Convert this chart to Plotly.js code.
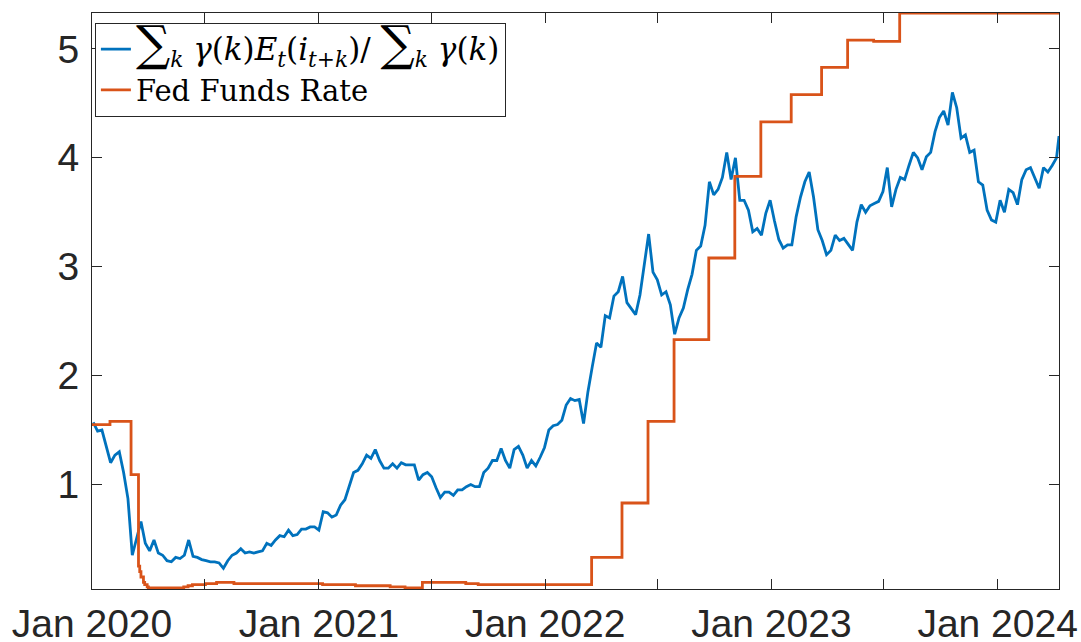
<!DOCTYPE html>
<html>
<head>
<meta charset="utf-8">
<script src="https://cdn.plot.ly/plotly-3.0.1.min.js"></script>
<style>
  html, body { margin: 0; padding: 0; background: #ffffff; }
  #chart { width: 1081px; height: 642px; }
</style>
</head>
<body>
<div id="chart"></div>
<script>
// Weekly (Friday) readings of the weighted average of expected future policy rates, by year
const exp2020 = [1.57,1.49,1.50,1.36,1.20,1.27,1.30,1.11,0.87,0.35,0.50,0.66,0.46,0.39,0.49,0.37,
  0.35,0.30,0.29,0.33,0.32,0.35,0.49,0.34,0.33,0.31,0.30,0.29,0.29,0.28,0.23,0.30,0.35,0.37,0.41,
  0.37,0.38,0.37,0.38,0.39,0.46,0.44,0.49,0.53,0.52,0.58,0.53,0.54,0.59,0.59,0.61,0.61];
const exp2021 = [0.58,0.75,0.74,0.70,0.72,0.81,0.86,0.98,1.11,1.13,1.19,1.27,1.24,1.32,1.22,1.15,
  1.15,1.19,1.15,1.20,1.18,1.18,1.18,1.04,1.09,1.11,1.07,0.97,0.88,0.93,0.93,0.90,0.95,0.95,0.98,
  1.00,0.98,0.98,1.11,1.15,1.22,1.22,1.33,1.22,1.15,1.32,1.35,1.27,1.15,1.22,1.17,1.25,1.34];
const exp2022 = [1.50,1.54,1.55,1.59,1.73,1.79,1.77,1.78,1.56,1.85,2.08,2.30,2.26,2.55,2.53,2.73,
  2.77,2.91,2.67,2.62,2.56,2.74,3.02,3.30,2.95,2.88,2.74,2.77,2.65,2.38,2.53,2.62,2.79,2.93,3.15,
  3.19,3.38,3.78,3.66,3.71,3.82,4.05,3.80,4.00,3.61,3.61,3.52,3.32,3.35,3.29,3.49,3.61];
const exp2023 = [3.42,3.25,3.17,3.20,3.20,3.46,3.64,3.78,3.87,3.64,3.34,3.24,3.11,3.15,3.29,3.24,
  3.26,3.20,3.15,3.41,3.57,3.50,3.56,3.58,3.60,3.69,3.91,3.55,3.71,3.82,3.80,3.93,4.05,4.00,3.89,
  4.01,4.05,4.24,4.37,4.43,4.30,4.60,4.46,4.18,4.21,4.05,4.07,3.78,3.75,3.52,3.43,3.41];
const exp2024 = [3.61,3.50,3.71,3.68,3.57,3.80,3.89,3.91,3.82,3.72,3.91,3.87,3.93,4.00];
const expFirstFriday = '2020-01-03';
const expLastDate = '2024-04-09';
const expLastValue = 4.20;

// Effective federal funds rate: dates on which the rate changed and the new level
const ffDates = ['2020-01-01','2020-01-30','2020-03-04','2020-03-16','2020-03-18','2020-03-20',
  '2020-03-24','2020-03-26','2020-03-30','2020-04-01','2020-05-28','2020-06-04','2020-06-11',
  '2020-07-02','2020-07-20','2020-08-17','2021-01-07','2021-03-01','2021-04-26','2021-05-20',
  '2021-06-17','2021-08-26','2021-09-15','2022-03-17','2022-05-05','2022-06-16','2022-07-28',
  '2022-09-22','2022-11-03','2022-12-15','2023-02-02','2023-03-23','2023-05-04','2023-06-15',
  '2023-07-27','2024-04-09'];
const ffValues = [1.55,1.58,1.09,0.25,0.20,0.15,0.10,0.08,0.06,0.05,0.06,0.07,0.08,0.09,0.10,
  0.09,0.08,0.07,0.06,0.05,0.10,0.09,0.08,0.33,0.83,1.58,2.33,3.08,3.83,4.33,4.58,4.83,5.08,
  5.07,5.33,5.33];

// Axis ticks: every January and July, labelled only in January
const tickDates = ['2020-01-01','2020-07-01','2021-01-01','2021-07-01','2022-01-01','2022-07-01',
  '2023-01-01','2023-07-01','2024-01-01'];
const tickLabels = ['Jan 2020','','Jan 2021','','Jan 2022','','Jan 2023','','Jan 2024'];
const yTicks = [1, 2, 3, 4, 5];

const seriesNames = [
  '<span style="font-size:31px"><span style="font-size:48px">∑</span><sub><i>k</i></sub> <i>γ</i>(<i>k</i>)<i>E</i><sub><i>t</i></sub>(<i>i</i><sub><i>t</i>+<i>k</i></sub>)/ <span style="font-size:48px">∑</span><sub><i>k</i></sub> <i>γ</i>(<i>k</i>)</span>',
  'Fed Funds Rate'
];

// Build the weekly date index for the expectation series
const expValues = [].concat(exp2020, exp2021, exp2022, exp2023, exp2024);
const expDates = [];
const start = new Date(expFirstFriday + 'T00:00:00Z');
for (let i = 0; i < expValues.length; i++) {
  const d = new Date(start.getTime() + i * 7 * 86400000);
  expDates.push(d.toISOString().slice(0, 10));
}
expDates.push(expLastDate);
expValues.push(expLastValue);

const ink = '#262626';

const traces = [
  {
    x: expDates, y: expValues, type: 'scatter', mode: 'lines',
    name: seriesNames[0],
    line: { color: '#0072BD', width: 2.8 }
  },
  {
    x: ffDates, y: ffValues, type: 'scatter', mode: 'lines',
    name: seriesNames[1],
    line: { color: '#D95319', width: 2.8, shape: 'hv' }
  }
];

const axisCommon = {
  showgrid: false, zeroline: false, showline: true,
  linecolor: ink, linewidth: 1, mirror: 'ticks',
  ticks: 'inside', ticklen: 10, tickwidth: 1, tickcolor: ink,
  tickfont: { family: 'Liberation Sans, Arial, sans-serif', size: 39, color: ink }
};

const layout = {
  width: 1081, height: 642,
  margin: { l: 92, r: 22, t: 13, b: 53 },
  paper_bgcolor: '#ffffff', plot_bgcolor: '#ffffff',
  showlegend: true,
  xaxis: Object.assign({}, axisCommon, {
    type: 'date',
    range: ['2020-01-01', '2024-04-09'],
    tickmode: 'array', tickvals: tickDates, ticktext: tickLabels
  }),
  yaxis: Object.assign({}, axisCommon, {
    range: [0.04, 5.33],
    tickmode: 'array', tickvals: yTicks, ticktext: yTicks.map(String),
    ticklabelstandoff: 4
  }),
  legend: {
    x: 0.003, y: 0.983, xanchor: 'left', yanchor: 'top',
    bgcolor: '#ffffff', bordercolor: ink, borderwidth: 1,
    font: { family: 'DejaVu Serif, Liberation Serif, serif', size: 29, color: '#000000' },
    itemwidth: 30, tracegroupgap: 0
  }
};

Plotly.newPlot('chart', traces, layout, { displayModeBar: false, staticPlot: true });
</script>
</body>
</html>
